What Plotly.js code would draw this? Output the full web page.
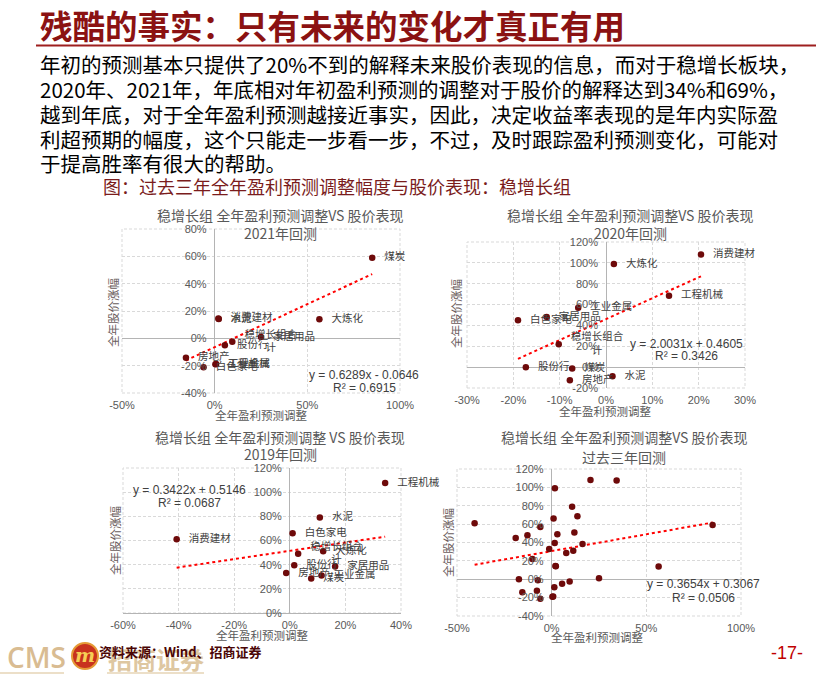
<!DOCTYPE html>
<html><head><meta charset="utf-8">
<script src="https://cdn.plot.ly/plotly-3.0.1.min.js"></script>
<style>html,body{margin:0;padding:0;background:#fff}#chart{width:816px;height:675px}</style>
</head><body><div id="chart"></div>
<script>
// ---------------- data ----------------
const industries = ['煤炭','大炼化','消费建材','水泥','家居用品','稳增长组合计','股份行','房地产','白色家电','工程机械','工业金属'];
const x2021 = [0.85, 0.565, 0.02, 0.022, 0.25, 0.095, 0.055, -0.155, -0.06, 0.004, 0.008];
const y2021 = [0.59, 0.14, 0.145, 0.142, 0.01, -0.025, -0.05, -0.142, -0.212, -0.19, -0.188];
const x2020 = [-0.073, 0.017, 0.205, 0.014, -0.128, -0.102, -0.173, -0.078, -0.19, 0.136, -0.06];
const y2020 = [-0.012, 0.99, 1.08, -0.088, 0.48, 0.22, 0.0, -0.125, 0.45, 0.685, 0.57];
const x2019 = [0.077, 0.12, -0.407, 0.108, 0.163, 0.03, 0.016, -0.013, 0.01, 0.343, 0.114];
const y2019 = [0.285, 0.51, 0.61, 0.79, 0.385, 0.49, 0.395, 0.33, 0.66, 1.075, 0.31];
const trendSlope = [0.6289, 2.0031, 0.3422, 0.3654];
const trendIntercept = [-0.0646, 0.4605, 0.5146, 0.3067];
const rSquared = ['0.6915', '0.3426', '0.0687', '0.0506'];
const panelSubtitles = ['2021年回测', '2020年回测', '2019年回测', '过去三年回测'];
const panelTitles = ['稳增长组 全年盈利预测调整VS 股价表现', '稳增长组 全年盈利预测调整VS 股价表现', '稳增长组 全年盈利预测调整 VS 股价表现', '稳增长组 全年盈利预测调整VS 股价表现'];
const xTicks1 = [-0.5, 0, 0.5, 1.0];
const yTicks1 = [-0.4, -0.2, 0, 0.2, 0.4, 0.6, 0.8];
const xTicks2 = [-0.3, -0.2, -0.1, 0, 0.1, 0.2, 0.3];
const yTicks2 = [-0.2, 0, 0.2, 0.4, 0.6, 0.8, 1.0, 1.2];
const xTicks3 = [-0.6, -0.4, -0.2, 0, 0.2, 0.4];
const yTicks3 = [0, 0.2, 0.4, 0.6, 0.8, 1.0, 1.2];
const xTicks4 = [-0.5, 0, 0.5, 1.0];
const yTicks4 = [-0.4, -0.2, 0, 0.2, 0.4, 0.6, 0.8, 1.0, 1.2];
const xAxisTitle = '全年盈利预测调整';
const yAxisTitle = '全年股价涨幅';
const mainTitle = '残酷的事实：只有未来的变化才真正有用';
const paragraph = [
  '年初的预测基本只提供了20%不到的解释未来股价表现的信息，而对于稳增长板块，',
  '2020年、2021年，年底相对年初盈利预测的调整对于股价的解释达到34%和69%，',
  '越到年底，对于全年盈利预测越接近事实，因此，决定收益率表现的是年内实际盈',
  '利超预期的幅度，这个只能走一步看一步，不过，及时跟踪盈利预测变化，可能对',
  '于提高胜率有很大的帮助。'
];
const caption = '图：过去三年全年盈利预测调整幅度与股价表现：稳增长组';
const sourceText = '资料来源：Wind、招商证券';
const pageNo = '-17-';

// ---------------- layout helpers ----------------
const W = 816, H = 675;
const PX = p => p / W, PY = p => 1 - p / H;
const CJK = '"Noto Sans CJK SC", "Noto Sans", sans-serif';
const LAT = '"Liberation Sans", Arial, sans-serif';
const pct = v => Math.round(v * 100) + '%';
const pad = '\u00a0\u00a0\u00a0';
function labelText(s) {
  if (s.length > 5) return pad + s.slice(0, 5) + '<br>' + pad + '\u3000\u3000' + s.slice(5);
  return pad + s;
}

const panels = [
  {xs: x2021, ys: y2021, labels: true, xt: xTicks1, yt: yTicks1, dom: [122, 400, 229, 393], eq: [364, 375, 388], ttl: [280, 215, 233], yttl: [113, 313], xttl: [261, 415]},
  {xs: x2020, ys: y2020, labels: true, xt: xTicks2, yt: yTicks2, dom: [467, 745, 242, 388], eq: [686, 344, 356], ttl: [630, 215, 233], yttl: [456, 314], xttl: [605, 411]},
  {xs: x2019, ys: y2019, labels: true, xt: xTicks3, yt: yTicks3, dom: [123, 401, 468, 613], eq: [189, 490, 503], ttl: [280, 437, 454], yttl: [115, 541], xttl: [262, 635]},
  {xs: x2021.concat(x2020, x2019), ys: y2021.concat(y2020, y2019), labels: false, xt: xTicks4, yt: yTicks4, dom: [457, 741, 469, 616], eq: [703, 584, 598], ttl: [624, 437, 457], yttl: [448, 543], xttl: [597, 637]}
];

const data = [];
const layout = {
  width: W, height: H, margin: {l: 0, r: 0, t: 0, b: 0},
  paper_bgcolor: '#fff', plot_bgcolor: '#fff', showlegend: false,
  annotations: [], shapes: []
};

panels.forEach((p, i) => {
  const n = i === 0 ? '' : String(i + 1);
  const xr = [p.xt[0], p.xt[p.xt.length - 1]];
  const yr = [p.yt[0], p.yt[p.yt.length - 1]];
  const zeroPx = p.dom[0] + (0 - xr[0]) / (xr[1] - xr[0]) * (p.dom[1] - p.dom[0]);
  layout['xaxis' + n] = {
    domain: [PX(p.dom[0]), PX(p.dom[1])], range: xr, anchor: 'y' + n,
    tickvals: p.xt, ticktext: p.xt.map(pct), ticks: '', ticklabelstandoff: 4,
    tickfont: {family: LAT, size: 11, color: '#595959'},
    showgrid: true, gridcolor: '#D9D9D9', griddash: '3px,2px', gridwidth: 1,
    zeroline: true, zerolinecolor: '#B4B4B4', zerolinewidth: 1, showline: false, fixedrange: true
  };
  layout['yaxis' + n] = {
    domain: [PY(p.dom[3]), PY(p.dom[2])], range: yr, anchor: 'free', position: PX(zeroPx),
    tickvals: p.yt, ticktext: p.yt.map(pct), ticks: '', ticklabelstandoff: 8,
    tickfont: {family: LAT, size: 11, color: '#595959'},
    showgrid: true, gridcolor: '#D9D9D9', griddash: '3px,2px', gridwidth: 1,
    zeroline: true, zerolinecolor: '#B4B4B4', zerolinewidth: 1, showline: false, fixedrange: true
  };
  layout.shapes.push({type: 'rect', xref: 'x' + n + ' domain', yref: 'y' + n + ' domain', x0: 0, x1: 1, y0: 0, y1: 1,
    line: {color: '#D9D9D9', width: 1, dash: '3px,2px'}, layer: 'below'});
  const xmin = Math.min(...p.xs), xmax = Math.max(...p.xs);
  data.push({
    type: 'scatter', mode: 'lines', xaxis: 'x' + n, yaxis: 'y' + n,
    x: [xmin, xmax], y: [trendSlope[i] * xmin + trendIntercept[i], trendSlope[i] * xmax + trendIntercept[i]],
    line: {color: '#FF0000', width: 2, dash: 'dot'}, hoverinfo: 'skip'
  });
  data.push({
    type: 'scatter', mode: p.labels ? 'markers+text' : 'markers', xaxis: 'x' + n, yaxis: 'y' + n,
    x: p.xs, y: p.ys,
    text: p.labels ? industries.map(labelText) : undefined,
    textposition: 'middle right', cliponaxis: false,
    textfont: {family: CJK, size: 10.5, color: '#404040'},
    marker: {color: '#6E0A0A', size: 6.5}
  });
  const sgn = trendIntercept[i] < 0 ? '-' : '+';
  const eqText = 'y = ' + trendSlope[i].toFixed(4) + 'x ' + sgn + ' ' + Math.abs(trendIntercept[i]).toFixed(4);
  const ann = (txt, x, y, font, extra) => layout.annotations.push(Object.assign({
    text: txt, xref: 'paper', yref: 'paper', x: PX(x), y: PY(y), xanchor: 'center', yanchor: 'middle',
    showarrow: false, font: font}, extra || {}));
  ann(eqText, p.eq[0], p.eq[1], {family: LAT, size: 12, color: '#404040'});
  ann('R² = ' + rSquared[i], p.eq[0], p.eq[2], {family: LAT, size: 12, color: '#404040'});
  ann(panelTitles[i], p.ttl[0], p.ttl[1], {family: CJK, size: 14, color: '#595959'});
  ann(panelSubtitles[i], p.ttl[0], p.ttl[2], {family: CJK, size: 14, color: '#595959'});
  ann(yAxisTitle, p.yttl[0], p.yttl[1], {family: CJK, size: 11.5, color: '#6a5c5c'}, {textangle: -90});
  ann(xAxisTitle, p.xttl[0], p.xttl[1], {family: CJK, size: 11.5, color: '#595959'});
});

// ---------------- slide text ----------------
const addText = (txt, x, y, font, xanchor) => layout.annotations.push({
  text: txt, xref: 'paper', yref: 'paper', x: PX(x), y: PY(y), xanchor: xanchor || 'left', yanchor: 'middle',
  showarrow: false, font: font});
addText(mainTitle, 38, 24, {family: CJK, size: 32.5, color: '#8B1212', weight: 'bold'});
layout.shapes.push({type: 'line', xref: 'paper', yref: 'paper', x0: PX(36), x1: 1, y0: PY(45.5), y1: PY(45.5), line: {color: '#9E1F1F', width: 2}});
const lineY = [64, 89, 114, 139, 163];
paragraph.forEach((t, k) => addText(t, 38, lineY[k], {family: CJK, size: 20.5, color: '#000000'}));
addText(caption, 101, 186, {family: CJK, size: 18, color: '#7A1C1C'});

// footer logo
addText('CMS', 5, 657, {family: '"Open Sans", sans-serif', size: 28, color: '#D9BC92', weight: 600});
layout.shapes.push({type: 'circle', xref: 'paper', yref: 'paper', x0: PX(72), x1: PX(98), y0: PY(669), y1: PY(643),
  fillcolor: '#C8321E', line: {color: '#E59A36', width: 2}});
addText('m', 85, 655, {family: '"DejaVu Serif", serif', size: 19, color: '#F6CF55', weight: 'bold', style: 'italic'}, 'center');
addText('招商证券', 106, 658, {family: CJK, size: 24, color: '#DEC7A1', weight: 'bold'});
layout.shapes.push({type: 'line', xref: 'paper', yref: 'paper', x0: 0, x1: PX(64), y0: PY(673), y1: PY(673), line: {color: '#E6D4B6', width: 1.5}});
layout.shapes.push({type: 'line', xref: 'paper', yref: 'paper', x0: PX(107), x1: PX(204), y0: PY(673), y1: PY(673), line: {color: '#E6D4B6', width: 1.5}});
addText(sourceText, 97, 651, {family: CJK, size: 13, color: '#4A0505', weight: 'bold'});
addText(pageNo, 805, 653, {family: LAT, size: 18, color: '#C00000'}, 'right');

Plotly.newPlot('chart', data, layout, {displayModeBar: false, staticPlot: true});
</script>
</body></html>
